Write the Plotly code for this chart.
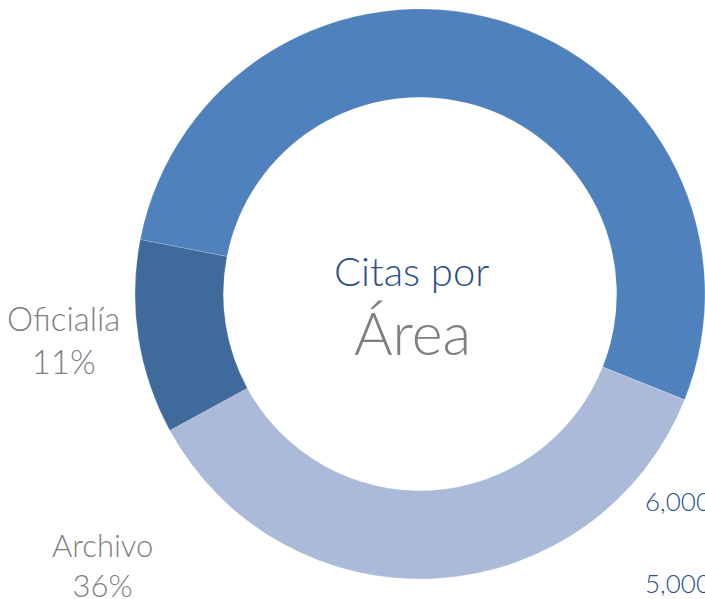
import plotly.graph_objects as go

# Data
areas = ["Atención", "Archivo", "Oficialía"]
percent = [53, 36, 11]
slice_colors = ["#4F81BD", "#ABBAD8", "#3F6A9C"]
axis_ticks = ["6,000", "5,000"]

W, H = 705, 599

fig = go.Figure()
fig.add_trace(go.Pie(
    labels=areas,
    values=percent,
    hole=0.69,
    sort=False,
    direction="clockwise",
    rotation=281,
    textinfo="none",
    hoverinfo="label+percent",
    marker=dict(colors=slice_colors, line=dict(color="rgba(255,255,255,0.4)", width=0.5)),
    domain=dict(x=[135 / W, 1.0], y=[20 / H, 590 / H]),
    showlegend=False,
))

font = "Lato, 'Noto Sans', sans-serif"
def px(x, y):
    return dict(x=x / W, y=1 - y / H)

annotations = [
    dict(**px(63, 339), text=f"{areas[2]}<br>{percent[2]}%",
         font=dict(size=33, color="#7F7F7F", family=font, weight=300)),
    dict(**px(103, 565), text=f"{areas[1]}<br>{percent[1]}%",
         font=dict(size=31, color="#7F7F7F", family=font, weight=300)),
    dict(**px(412, 271), text="Citas por",
         font=dict(size=40, color="#2A5088", family=font, weight=300)),
    dict(**px(413, 332), text="Área",
         font=dict(size=59, color="#7F7F7F", family=font, weight=300)),
    dict(**px(643, 501), text=axis_ticks[0], xanchor="left",
         font=dict(size=26, color="#2A5088", family=font, weight=300)),
    dict(**px(643, 583), text=axis_ticks[1], xanchor="left",
         font=dict(size=26, color="#2A5088", family=font, weight=300)),
]
for a in annotations:
    a.setdefault("xanchor", "center")
    a.update(xref="paper", yref="paper", yanchor="middle", showarrow=False)

fig.update_layout(
    width=W, height=H,
    margin=dict(l=0, r=0, t=0, b=0),
    paper_bgcolor="white", plot_bgcolor="white",
    annotations=annotations,
)
fig.write_html(
    "out.html",
    config={"displayModeBar": False},
    post_script="document.body.style.margin='0';document.body.style.overflow='hidden';",
)
